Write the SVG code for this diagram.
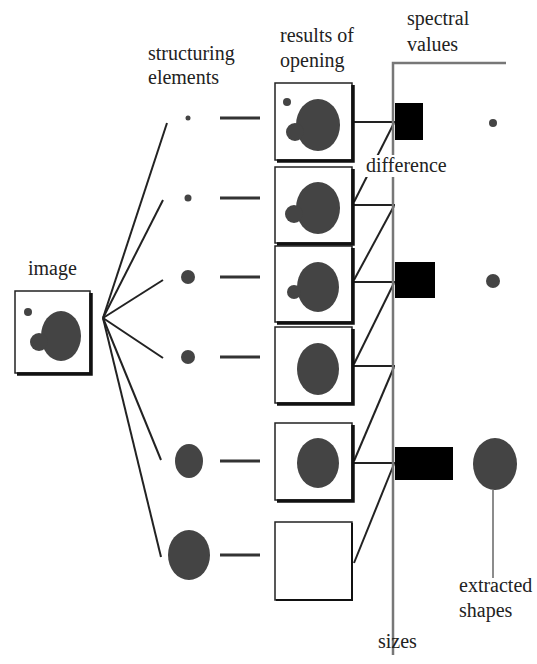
<svg xmlns="http://www.w3.org/2000/svg" width="537" height="664" viewBox="0 0 537 664">
<style>
text{font-family:"Liberation Serif","Times New Roman",serif;font-size:20px;fill:#222}
.box{fill:#fff;stroke:#222;stroke-width:1.5}
.sh{fill:none;stroke:#111;stroke-width:3.5}
.sh2{fill:none;stroke:#111;stroke-width:2}
.blob{fill:#444}
.ln{stroke:#222;stroke-width:2;fill:none}
.ax{stroke:#777;stroke-width:2.5;fill:none}
.bar{fill:#000}
</style>
<rect width="537" height="664" fill="#fff"/>

<g id="labels">
<text x="148" y="60">structuring</text>
<text x="148" y="84">elements</text>
<text x="280" y="42">results of</text>
<text x="280" y="67">opening</text>
<text x="407" y="25">spectral</text>
<text x="407" y="51">values</text>
<text x="28" y="275">image</text>
</g>

<g id="image">
<rect class="box" x="15" y="291" width="75" height="82"/>
<polyline class="sh" points="17,374 91,374 91,293"/>
<circle class="blob" cx="28" cy="312" r="4"/>
<ellipse class="blob" cx="61" cy="336" rx="20" ry="25"/>
<circle class="blob" cx="39" cy="342" r="9"/>
</g>

<g id="connectors">
<line class="ln" x1="103" y1="318" x2="167" y2="123"/>
<line class="ln" x1="103" y1="318" x2="163" y2="200"/>
<line class="ln" x1="103" y1="318" x2="163" y2="280"/>
<line class="ln" x1="103" y1="318" x2="163" y2="358"/>
<line class="ln" x1="103" y1="318" x2="161" y2="460"/>
<line class="ln" x1="103" y1="318" x2="161" y2="557"/>
<g stroke="#333" stroke-width="3">
<line x1="220" y1="118" x2="260" y2="118"/>
<line x1="220" y1="198" x2="260" y2="198"/>
<line x1="220" y1="277" x2="260" y2="277"/>
<line x1="220" y1="357" x2="260" y2="357"/>
<line x1="220" y1="461" x2="260" y2="461"/>
<line x1="220" y1="555" x2="260" y2="555"/>
</g>
<line class="ln" x1="352" y1="122" x2="395" y2="122"/>
<line class="ln" x1="352" y1="205" x2="395" y2="205"/>
<line class="ln" x1="352" y1="282" x2="395" y2="282"/>
<line class="ln" x1="352" y1="366" x2="395" y2="366"/>
<line class="ln" x1="352" y1="463" x2="395" y2="463"/>
<line class="ln" x1="354" y1="202" x2="394" y2="123"/>
<line class="ln" x1="354" y1="280" x2="394" y2="206"/>
<line class="ln" x1="354" y1="364" x2="394" y2="283"/>
<line class="ln" x1="354" y1="461" x2="394" y2="367"/>
<line class="ln" x1="354" y1="563" x2="394" y2="464"/>
<polyline class="ax" points="393,655 393,63 506,63"/>
<line stroke="#666" stroke-width="1.5" x1="493" y1="490" x2="493" y2="578"/>
</g>

<g id="structuring-elements">
<circle class="blob" cx="188" cy="118" r="2.5"/>
<circle class="blob" cx="188" cy="198" r="3.5"/>
<circle class="blob" cx="188" cy="277" r="7"/>
<circle class="blob" cx="188" cy="357" r="7"/>
<ellipse class="blob" cx="189" cy="461" rx="14" ry="17"/>
<ellipse class="blob" cx="189" cy="555" rx="21" ry="25"/>
</g>

<g id="result1">
<rect class="box" x="275" y="83" width="77" height="77"/>
<polyline class="sh" points="277,161 353,161 353,85"/>
<circle class="blob" cx="287" cy="102" r="4"/>
<ellipse class="blob" cx="318" cy="125" rx="22" ry="26"/>
<circle class="blob" cx="295" cy="132" r="9"/>
</g>
<g id="result2">
<rect class="box" x="275" y="167" width="77" height="76"/>
<polyline class="sh" points="277,244 353,244 353,169"/>
<ellipse class="blob" cx="318" cy="208" rx="22" ry="26"/>
<circle class="blob" cx="294" cy="214" r="9"/>
</g>
<g id="result3">
<rect class="box" x="275" y="246" width="77" height="76"/>
<polyline class="sh" points="277,323 353,323 353,248"/>
<ellipse class="blob" cx="318" cy="287" rx="21" ry="25"/>
<circle class="blob" cx="294" cy="292" r="7"/>
</g>
<g id="result4">
<rect class="box" x="275" y="327" width="77" height="76"/>
<polyline class="sh" points="277,404 353,404 353,329"/>
<ellipse class="blob" cx="318" cy="369" rx="21" ry="26"/>
</g>
<g id="result5">
<rect class="box" x="275" y="423" width="77" height="77"/>
<polyline class="sh" points="277,501 353,501 353,425"/>
<ellipse class="blob" cx="318" cy="463" rx="21" ry="25"/>
</g>
<g id="result6">
<rect class="box" x="275" y="522" width="77" height="78"/>
<polyline class="sh2" points="276,600 352,600 352,523"/>
</g>

<g id="spectral">
<rect class="bar" x="395" y="103" width="28" height="37"/>
<rect class="bar" x="395" y="262" width="40" height="36"/>
<rect class="bar" x="395" y="447" width="58" height="33"/>
</g>

<g id="extracted">
<circle class="blob" cx="493" cy="123" r="4"/>
<circle class="blob" cx="493" cy="281" r="7"/>
<ellipse class="blob" cx="495" cy="464" rx="22" ry="26"/>
</g>

<g id="texts">
<rect x="364" y="155" width="88" height="22" fill="#fff"/>
<text x="366" y="172">difference</text>
<text x="459" y="592">extracted</text>
<text x="459" y="617">shapes</text>
<text x="378" y="648">sizes</text>
</g>
</svg>
